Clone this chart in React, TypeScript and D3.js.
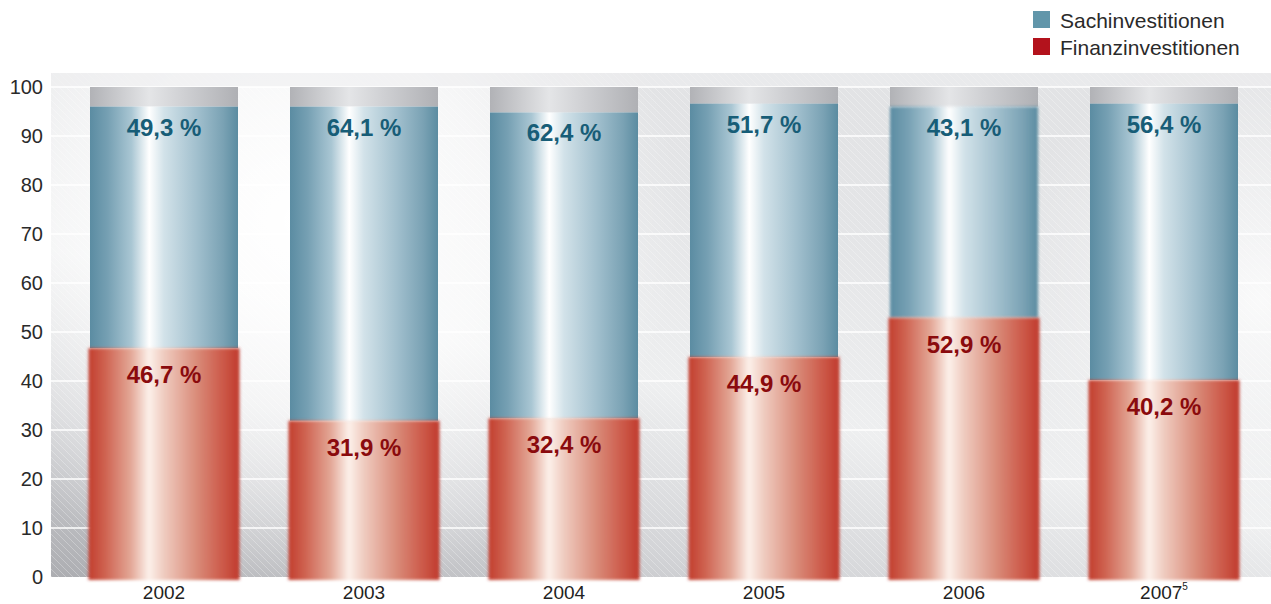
import React from "react";
import * as d3 from "d3";

const years = ["2002", "2003", "2004", "2005", "2006", "2007"];
const yearSup = ["", "", "", "", "", "5"];
const finanz = [46.7, 31.9, 32.4, 44.9, 52.9, 40.2];
const sach = [49.3, 64.1, 62.4, 51.7, 43.1, 56.4];
const yTicks = [0, 10, 20, 30, 40, 50, 60, 70, 80, 90, 100];
const seriesNames = ["Sachinvestitionen", "Finanzinvestitionen"];

const W = 1271;
const H = 604;
const plotLeft = 51;
const plotRight = 1271;
const plotTop = 73;

const fmt = (v: number) => v.toFixed(1).replace(".", ",") + " %";
const FONT = "'Liberation Sans', Arial, Helvetica, sans-serif";

export default function App() {
  const x = d3.scaleBand<string>().domain(years).range([64, 1264]).paddingInner(0.26).paddingOuter(0.13);
  const y = d3.scaleLinear().domain([0, 100]).range([577, 87]);
  const bw = x.bandwidth();

  return (
    <svg width={W} height={H} style={{ position: "absolute", left: 0, top: 0 }} xmlns="http://www.w3.org/2000/svg">
      <defs>
        <linearGradient id="bgLin" x1="0" y1="1" x2="0.55" y2="0">
          <stop offset="0" stopColor="#acadb1" />
          <stop offset="0.25" stopColor="#d3d4d7" />
          <stop offset="0.5" stopColor="#eeeff0" />
          <stop offset="0.8" stopColor="#e4e5e7" />
          <stop offset="1" stopColor="#e2e3e5" />
        </linearGradient>
        <radialGradient id="bgRad" cx="300" cy="220" r="380" gradientUnits="userSpaceOnUse">
          <stop offset="0" stopColor="#ffffff" stopOpacity="1" />
          <stop offset="0.5" stopColor="#ffffff" stopOpacity="0.7" />
          <stop offset="1" stopColor="#ffffff" stopOpacity="0" />
        </radialGradient>
        <radialGradient id="bgRad2" cx="1260" cy="300" r="260" gradientUnits="userSpaceOnUse">
          <stop offset="0" stopColor="#ffffff" stopOpacity="0.8" />
          <stop offset="1" stopColor="#ffffff" stopOpacity="0" />
        </radialGradient>
        <pattern id="hatch" width="7" height="7" patternUnits="userSpaceOnUse">
          <path d="M-1,-1 L8,8" stroke="#ffffff" strokeOpacity="0.35" strokeWidth="0.8" />
        </pattern>
        <linearGradient id="blueG" x1="0" y1="0" x2="1" y2="0">
          <stop offset="0" stopColor="#5b8ca2" />
          <stop offset="0.12" stopColor="#76a0b3" />
          <stop offset="0.28" stopColor="#a9c6d3" />
          <stop offset="0.4" stopColor="#ffffff" />
          <stop offset="0.5" stopColor="#d2e2e9" />
          <stop offset="0.72" stopColor="#a2c0ce" />
          <stop offset="0.9" stopColor="#7aa2b4" />
          <stop offset="1" stopColor="#5b8ca1" />
        </linearGradient>
        <linearGradient id="redG" x1="0" y1="0" x2="1" y2="0">
          <stop offset="0" stopColor="#c23d2e" />
          <stop offset="0.12" stopColor="#d06654" />
          <stop offset="0.28" stopColor="#e3a796" />
          <stop offset="0.4" stopColor="#fcf0ea" />
          <stop offset="0.5" stopColor="#efcbbf" />
          <stop offset="0.72" stopColor="#d98a78" />
          <stop offset="0.9" stopColor="#cb5646" />
          <stop offset="1" stopColor="#c03a2c" />
        </linearGradient>
        <linearGradient id="greyG" x1="0" y1="0" x2="1" y2="0">
          <stop offset="0" stopColor="#b1b2b6" />
          <stop offset="0.4" stopColor="#e4e5e7" />
          <stop offset="0.6" stopColor="#d2d3d6" />
          <stop offset="1" stopColor="#afb0b4" />
        </linearGradient>
        <filter id="soft" x="-5%" y="-5%" width="110%" height="110%">
          <feGaussianBlur stdDeviation="1.6" />
        </filter>
      </defs>

      {/* background */}
      <rect x={plotLeft} y={plotTop} width={plotRight - plotLeft} height={y(0) - plotTop} fill="url(#bgLin)" />
      <rect x={plotLeft} y={plotTop} width={plotRight - plotLeft} height={y(0) - plotTop} fill="url(#bgRad)" />
      <rect x={plotLeft} y={plotTop} width={plotRight - plotLeft} height={y(0) - plotTop} fill="url(#bgRad2)" />
      <rect x={plotLeft} y={plotTop} width={plotRight - plotLeft} height={y(0) - plotTop} fill="url(#hatch)" />
      <rect x={plotLeft} y={plotTop} width={plotRight - plotLeft} height={y(100) - plotTop} fill="#eeeff0" opacity="0.6" />

      {/* gridlines */}
      {yTicks.filter((t) => t > 0).map((t) => (
        <line key={t} x1={plotLeft} x2={plotRight} y1={y(t)} y2={y(t)} stroke="#ffffff" strokeWidth="1.5" />
      ))}

      {/* y tick labels */}
      {yTicks.map((t) => (
        <text key={t} x={43} y={y(t) + 7} textAnchor="end" fontFamily={FONT} fontSize="20" fill="#2a2a2a">
          {t}
        </text>
      ))}

      {/* bars */}
      {years.map((yr, i) => {
        const x0 = x(yr) as number;
        const total = finanz[i] + sach[i];
        const blur = yr === "2006" ? "url(#soft)" : undefined;
        return (
          <g key={yr}>
            <rect x={x0} y={y(100)} width={bw} height={y(total) - y(100)} fill="url(#greyG)" />
            <rect x={x0} y={y(total)} width={bw} height={y(finanz[i]) - y(total)} fill="url(#blueG)" filter={blur} />
            <rect x={x0 - 1.5} y={y(finanz[i])} width={bw + 3} height={y(0) - y(finanz[i]) + 3} fill="url(#redG)" filter="url(#soft)" />
            <text x={x0 + bw / 2} y={y(total) + 29} textAnchor="middle" fontFamily={FONT} fontWeight="bold" fontSize="24" fill="#175d77">
              {fmt(sach[i])}
            </text>
            <text x={x0 + bw / 2} y={y(finanz[i]) + 35} textAnchor="middle" fontFamily={FONT} fontWeight="bold" fontSize="24" fill="#8a0a0d">
              {fmt(finanz[i])}
            </text>
            <text x={x0 + bw / 2} y={599} textAnchor="middle" fontFamily={FONT} fontSize="19" fill="#222">
              {yr}
              {yearSup[i] && (
                <tspan fontSize="10" dy="-9">{yearSup[i]}</tspan>
              )}
            </text>
          </g>
        );
      })}

      {/* legend */}
      <rect x={1033} y={11} width={17} height={17} fill="#6196aa" />
      <text x={1060} y={28} fontFamily={FONT} fontSize="21" fill="#2a2a2a">{seriesNames[0]}</text>
      <rect x={1033} y={38} width={17} height={17} fill="#b3121c" />
      <text x={1060} y={55} fontFamily={FONT} fontSize="21" fill="#2a2a2a">{seriesNames[1]}</text>
    </svg>
  );
}
